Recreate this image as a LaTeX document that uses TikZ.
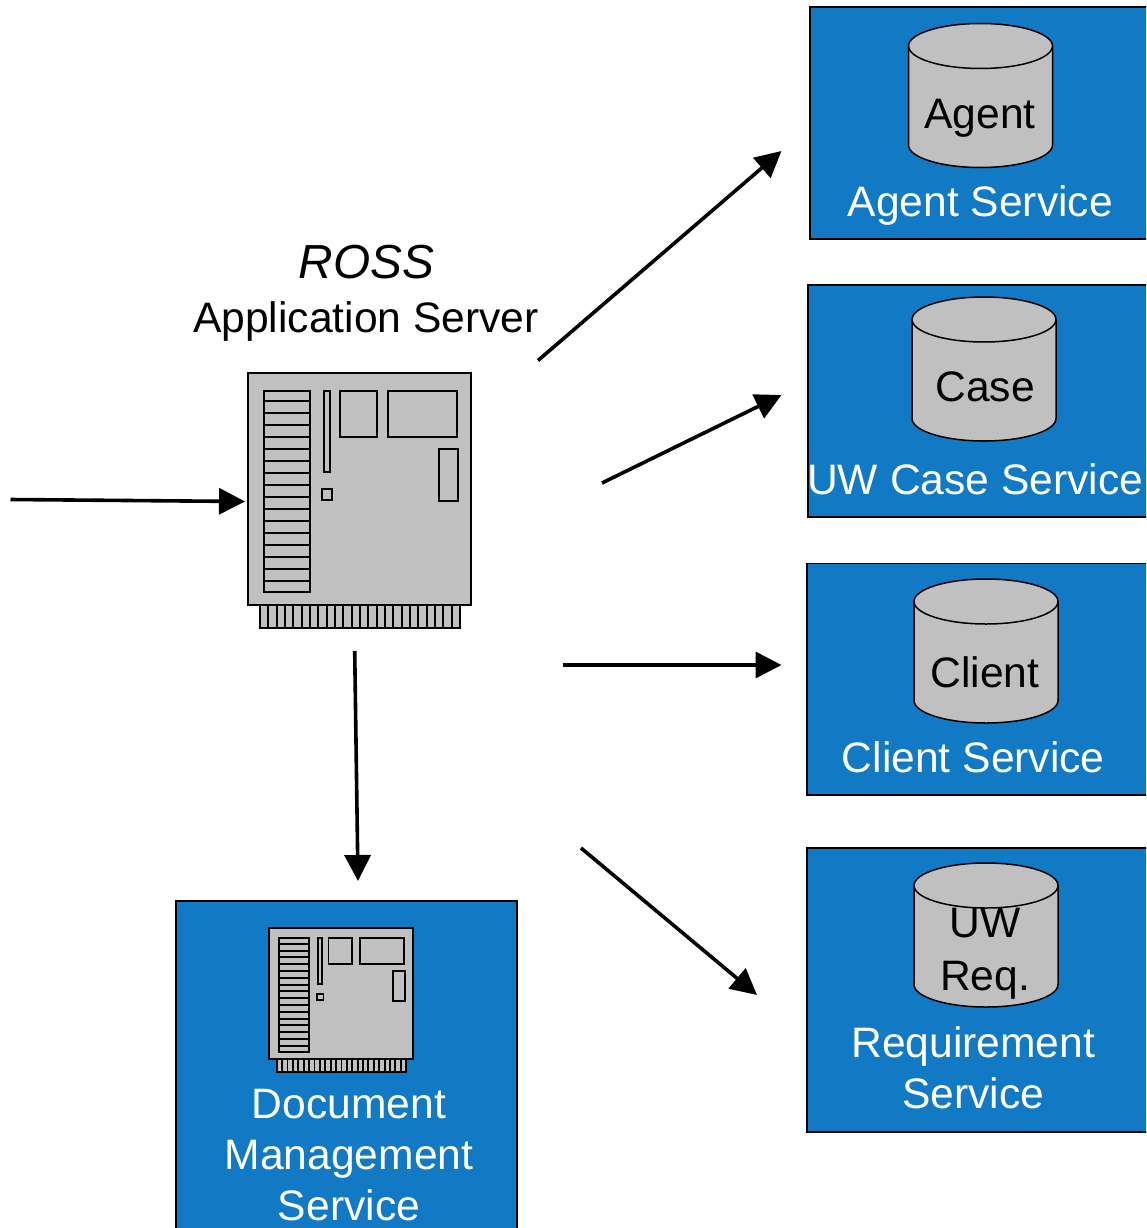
\documentclass[tikz,border=0pt]{standalone}
\usepackage{fontspec}
\setmainfont{Liberation Sans}
\usetikzlibrary{arrows.meta}
\definecolor{svcblue}{HTML}{1279C4}
\definecolor{partgrey}{HTML}{C0C0C0}
\tikzset{
  svc/.style={fill=svcblue,draw=black,line width=1.5pt},
  part/.style={fill=partgrey,draw=black,line width=2pt},
  partline/.style={draw=black,line width=2.2pt},
  flow/.style={draw=black,line width=3.6pt,-{Triangle[length=26pt,width=26pt]}},
  lab/.style={anchor=base,inner sep=0pt,font=\fontsize{42.6pt}{50pt}\selectfont},
  wlab/.style={lab,text=white},
}
% board drawn in its own coordinates, origin at top left of the card
\newcommand{\boardpic}{%
  \foreach \i in {0,...,23} {\draw[part] ({12+\i*8.33},232) rectangle ({12+(\i+1)*8.33},254.7);}
  \draw[part] (0,0) rectangle (222.7,232);
  \draw[part] (15.6,18) rectangle (62,218.7);
  \foreach \i in {0,...,15} {\draw[partline] (15.6,{28+\i*12}) -- (62,{28+\i*12});}
  \draw[part] (75.6,18) rectangle (82.3,98.7);
  \draw[part] (73.6,116) rectangle (84.3,126.7);
  \draw[part] (92,18) rectangle (128.7,64);
  \draw[part] (140,18) rectangle (208.7,64);
  \draw[part] (191.3,76) rectangle (210.4,128.2);
}
% cylinder: left x, top y
\newcommand{\cyl}[2]{%
  \begin{scope}[shift={(#1,#2)}]
    \draw[part,line width=1.5pt] (0,22.5) -- (0,121.5) arc[start angle=180,end angle=360,x radius=72,y radius=-22.5] -- (144,22.5) arc[start angle=0,end angle=180,x radius=72,y radius=-22.5] -- cycle;
    \draw[draw=black,line width=1.5pt] (0,22.5) arc[start angle=180,end angle=360,x radius=72,y radius=-22.5];
  \end{scope}
}
\begin{document}
\begin{tikzpicture}[x=1pt,y=-1pt]
\useasboundingbox (0,0) rectangle (1146,1228);
\clip (0,0) rectangle (1146,1228);

% service boxes
\draw[svc] (810,7) rectangle (1150,239);
\draw[svc] (808,285) rectangle (1150,517);
\draw[svc] (807,563.5) rectangle (1150,795);
\draw[svc] (807,848) rectangle (1150,1132);
\draw[svc] (176,901) rectangle (517,1240);

% cylinders
\cyl{908.5}{23.5}
\cyl{912}{297}
\cyl{914}{579}
\cyl{914}{863}

% boards
\begin{scope}[shift={(248,373)}]
  \boardpic
\end{scope}
\begin{scope}[shift={(268.9,928)},xscale=.648,yscale=.566,
  part/.append style={line width=1.9pt},partline/.append style={line width=2.1pt}]
  \boardpic
\end{scope}

% labels
\node[lab,font=\fontsize{47.8pt}{50pt}\selectfont\itshape] (ross) at (366.5,278.5) {ROSS};
\node[lab] (appserver) at (366,332) {Application Server};
\node[lab] (agentdb) at (980,128.8) {Agent};
\node[wlab] (agentsvc) at (980.3,216) {Agent Service};
\node[lab] (casedb) at (985,401) {Case};
\node[wlab] (casesvc) at (975.3,494) {UW Case Service};
\node[lab] (clientdb) at (985,687) {Client};
\node[wlab] (clientsvc) at (973.3,772) {Client Service};
\node[lab] (reqdba) at (985,937) {UW};
\node[lab] (reqdbb) at (985,990) {Req.};
\node[wlab] (reqsvca) at (973.3,1057) {Requirement};
\node[wlab] (reqsvcb) at (973.3,1108) {Service};
\node[wlab] (doca) at (349,1118) {Document};
\node[wlab] (docb) at (349,1169) {Management};
\node[wlab] (docc) at (349,1220) {Service};

% connector ends
\coordinate (inS) at (10.5,499.5);
\coordinate (inE) at (245,501.5);
\coordinate (agS) at (538,360.5);
\coordinate (agE) at (781.5,151);
\coordinate (caS) at (602,483);
\coordinate (caE) at (781.5,395);
\coordinate (clS) at (562.5,665);
\coordinate (clE) at (781.5,665);
\coordinate (reS) at (581,848);
\coordinate (reE) at (757,995);
\coordinate (doS) at (354.7,651);
\coordinate (doE) at (358,881);

\draw[flow] (inS) -- (inE);
\draw[flow] (agS) -- (agE);
\draw[flow] (caS) -- (caE);
\draw[flow] (clS) -- (clE);
\draw[flow] (reS) -- (reE);
\draw[flow] (doS) -- (doE);
\end{tikzpicture}
\end{document}
